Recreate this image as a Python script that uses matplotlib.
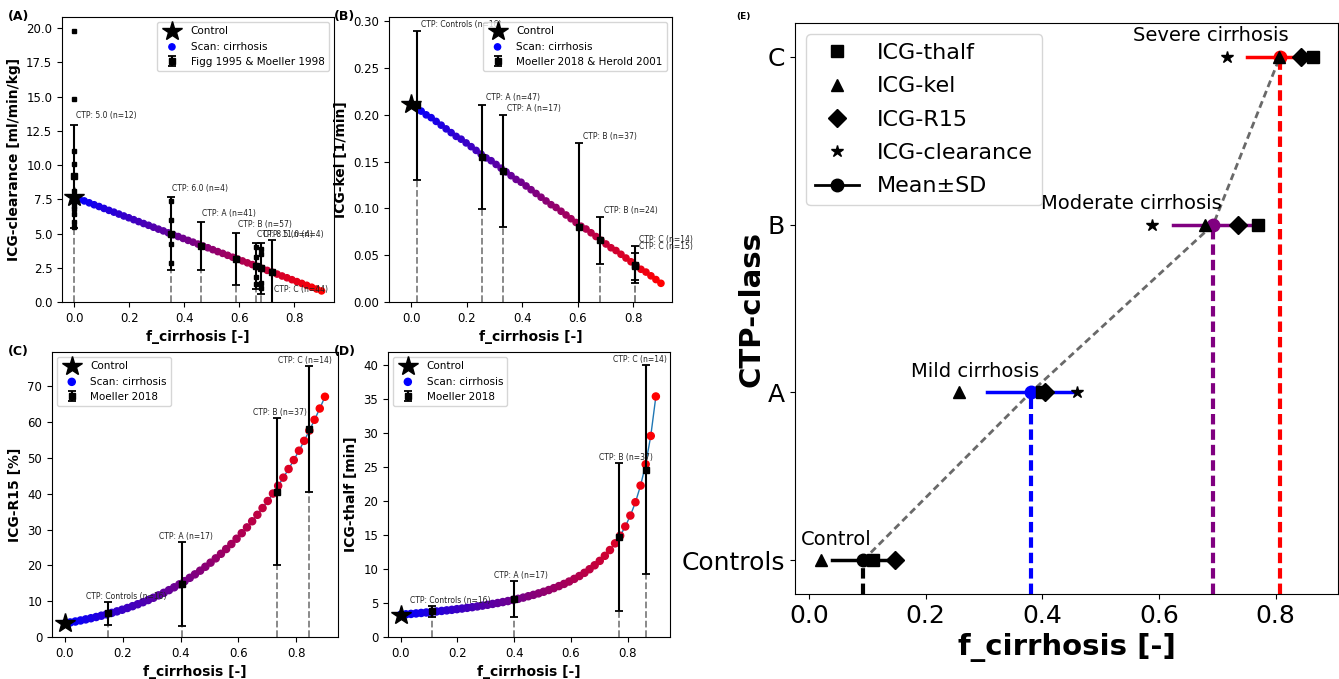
import numpy as np
import matplotlib.pyplot as plt
from matplotlib.colors import LinearSegmentedColormap
from matplotlib.lines import Line2D

# ---------------- data ----------------
# scan over fraction of cirrhosis
f_scan = np.linspace(0, 0.9, 51)

clearance_scan = [7.65, 7.51, 7.38, 7.24, 7.10, 6.97, 6.83, 6.69, 6.56, 6.42,
                  6.28, 6.15, 6.01, 5.87, 5.73, 5.60, 5.46, 5.32, 5.19, 5.05,
                  4.91, 4.78, 4.64, 4.50, 4.37, 4.23, 4.09, 3.96, 3.82, 3.68,
                  3.55, 3.41, 3.27, 3.14, 3.00, 2.86, 2.73, 2.59, 2.45, 2.31,
                  2.18, 2.04, 1.90, 1.77, 1.63, 1.49, 1.36, 1.22, 1.08, 0.95,
                  0.81]
kel_scan = [0.212, 0.208, 0.204, 0.200, 0.197, 0.193, 0.189, 0.185, 0.181, 0.177,
            0.174, 0.170, 0.166, 0.162, 0.158, 0.154, 0.151, 0.147, 0.143, 0.139,
            0.135, 0.131, 0.128, 0.124, 0.120, 0.116, 0.112, 0.108, 0.104, 0.101,
            0.097, 0.093, 0.089, 0.085, 0.081, 0.078, 0.074, 0.070, 0.066, 0.062,
            0.058, 0.055, 0.051, 0.047, 0.043, 0.039, 0.035, 0.032, 0.028, 0.024,
            0.020]
r15_scan = [3.80, 4.05, 4.32, 4.61, 4.91, 5.23, 5.57, 5.94, 6.32, 6.73,
            7.15, 7.61, 8.09, 8.60, 9.14, 9.71, 10.31, 10.95, 11.62, 12.33,
            13.08, 13.87, 14.70, 15.59, 16.52, 17.49, 18.52, 19.61, 20.76, 21.96,
            23.23, 24.56, 25.96, 27.44, 28.99, 30.61, 32.32, 34.12, 36.01, 37.98,
            40.06, 42.23, 44.51, 46.91, 49.41, 52.03, 54.78, 57.66, 60.67, 63.81,
            67.10]
thalf_scan = [3.27, 3.33, 3.39, 3.46, 3.53, 3.60, 3.67, 3.75, 3.83, 3.91,
              3.99, 4.09, 4.18, 4.28, 4.38, 4.49, 4.61, 4.73, 4.86, 4.99,
              5.13, 5.28, 5.44, 5.61, 5.79, 5.99, 6.19, 6.41, 6.65, 6.90,
              7.18, 7.48, 7.80, 8.15, 8.54, 8.96, 9.43, 9.96, 10.54, 11.19,
              11.93, 12.78, 13.76, 14.89, 16.24, 17.85, 19.81, 22.26, 25.39, 29.56,
              35.36]

# control values (f_cirrhosis = 0)
control_clearance = 7.65
control_kel = 0.212
control_r15 = 4.0
control_thalf = 3.27

# (A) ICG-clearance, Figg 1995 & Moeller 1998
clear_f = [0.0, 0.35, 0.46, 0.59, 0.66, 0.68, 0.72]
clear_mean = [9.17, 5.0, 4.1, 3.15, 2.6, 2.45, 2.2]
clear_sd = [3.78, 2.65, 1.73, 1.9, 1.68, 1.85, 2.3]
clear_labels = ['CTP: 5.0 (n=12)', 'CTP: 6.0 (n=4)', 'CTP: A (n=41)', 'CTP: B (n=57)',
                'CTP: 8.5 (n=4)', 'CTP: 11.0 (n=4)', 'CTP: C (n=44)']
# individual subjects
indiv_f = [0.0] * 12 + [0.35] * 4 + [0.66] * 4 + [0.68] * 4
indiv_clearance = [19.8, 14.8, 11.0, 10.1, 8.1, 7.7, 7.3, 7.0, 6.8, 6.4, 5.85, 5.5,
                   7.35, 6.0, 4.2, 2.85,
                   4.0, 3.3, 1.8, 1.3,
                   3.9, 3.5, 1.4, 1.0]

# (B) ICG-kel, Moeller 2018 & Herold 2001
kel_f = [0.02, 0.255, 0.33, 0.605, 0.68, 0.805, 0.805]
kel_mean = [0.21, 0.155, 0.14, 0.08, 0.066, 0.04, 0.038]
kel_sd = [0.08, 0.056, 0.06, 0.09, 0.025, 0.02, 0.014]
kel_labels = ['CTP: Controls (n=16)', 'CTP: A (n=47)', 'CTP: A (n=17)', 'CTP: B (n=37)',
              'CTP: B (n=24)', 'CTP: C (n=14)', 'CTP: C (n=15)']

# (C) ICG-R15, Moeller 2018
r15_f = [0.148, 0.405, 0.735, 0.845]
r15_mean = [6.6, 14.8, 40.6, 58.2]
r15_sd = [3.3, 11.7, 20.6, 17.6]
moeller_labels = ['CTP: Controls (n=16)', 'CTP: A (n=17)', 'CTP: B (n=37)', 'CTP: C (n=14)']

# (D) ICG-thalf, Moeller 2018
thalf_f = [0.11, 0.40, 0.77, 0.865]
thalf_mean = [3.75, 5.6, 14.7, 24.6]
thalf_sd = [0.8, 2.7, 10.9, 15.4]

# (E) f_cirrhosis per CTP class and parameter
ctp_classes = ['Controls', 'A', 'B', 'C']
class_thalf = [0.11, 0.40, 0.77, 0.865]
class_kel = [0.02, 0.257, 0.679, 0.806]
class_r15 = [0.148, 0.405, 0.736, 0.843]
class_clearance = [np.nan, 0.459, 0.588, 0.717]
class_names = ['Control', 'Mild cirrhosis', 'Moderate cirrhosis', 'Severe cirrhosis']

# ---------------- plotting ----------------
cmap = LinearSegmentedColormap.from_list('cirr', ['blue', 'purple', 'red'])

fig = plt.figure(figsize=(13.39, 6.79), dpi=100)
ax_a = fig.add_axes([0.0463, 0.5552, 0.2031, 0.4197])
ax_b = fig.add_axes([0.2905, 0.5552, 0.2114, 0.4197])
ax_c = fig.add_axes([0.0388, 0.0619, 0.2136, 0.4197])
ax_d = fig.add_axes([0.2898, 0.0619, 0.2106, 0.4197])
ax_e = fig.add_axes([0.5937, 0.1252, 0.4055, 0.8409])


def scan_panel(ax, control, scan, f, mean, sd, data_label, ylabel, dot_size):
    star, = ax.plot(0, control, '*', color='black', ms=15, zorder=6, label='Control')
    ax.plot(f_scan, scan, color='tab:blue', lw=1, zorder=1)
    sc = ax.scatter(f_scan, scan, c=f_scan, cmap=cmap, vmin=0, vmax=0.9, s=dot_size,
                    zorder=2, label='Scan: cirrhosis')
    ax.vlines(f, 0, mean, colors='gray', linestyles='--', lw=1.3, zorder=0)
    eb = ax.errorbar(f, mean, yerr=sd, fmt='s', color='black', ms=5, capsize=3,
                     elinewidth=1.5, capthick=1.3, zorder=4, label=data_label)
    ax.set_xlabel('f_cirrhosis [-]', fontsize=10, fontweight='bold')
    ax.set_ylabel(ylabel, fontsize=10, fontweight='bold')
    ax.tick_params(labelsize=8.5)
    return [star, sc, eb]


def add_labels(ax, f, mean, sd, labels, ha, dx, dy_pt):
    for i, (x, m, s, t) in enumerate(zip(f, mean, sd, labels)):
        ax.annotate(t, (x + dx[i], m + s), xytext=(0, dy_pt), textcoords='offset points',
                    ha=ha, va='bottom', fontsize=5.5, color='#222222', zorder=3)


# (A)
h = scan_panel(ax_a, control_clearance, clearance_scan, clear_f, clear_mean, clear_sd,
               'Figg 1995 & Moeller 1998', 'ICG-clearance [ml/min/kg]', 20)
ax_a.plot(indiv_f, indiv_clearance, 's', color='black', ms=2.5, zorder=3)
for i, (x, m, s, t) in enumerate(zip(clear_f, clear_mean, clear_sd, clear_labels)):
    y = m + s if i < len(clear_f) - 1 else 0.25
    ax_a.annotate(t, (x, y), xytext=(1, 3), textcoords='offset points', ha='left',
                  va='bottom', fontsize=5.5, color='#222222')
ax_a.set_xlim(-0.045, 0.945)
ax_a.set_ylim(0, 20.8)
ax_a.legend(handles=h, loc='upper right', fontsize=7.5)

# (B)
h = scan_panel(ax_b, control_kel, kel_scan, kel_f, kel_mean, kel_sd,
               'Moeller 2018 & Herold 2001', 'ICG-kel [1/min]', 20)
add_labels(ax_b, kel_f, kel_mean, kel_sd, kel_labels, 'left', [0.015] * 7, 1.5)
ax_b.set_xlim(-0.08, 0.94)
ax_b.set_ylim(0, 0.3045)
ax_b.legend(handles=h, loc='upper right', fontsize=7.5)

# (C)
h = scan_panel(ax_c, control_r15, r15_scan, r15_f, r15_mean, r15_sd,
               'Moeller 2018', 'ICG-R15 [%]', 26)
add_labels(ax_c, r15_f, r15_mean, r15_sd, moeller_labels, 'center',
           [0.065, 0.014, 0.01, -0.016], 0.5)
ax_c.set_xlim(-0.045, 0.945)
ax_c.set_ylim(0, 79.6)
ax_c.legend(handles=h, loc='upper left', fontsize=7.5)

# (D)
h = scan_panel(ax_d, control_thalf, thalf_scan, thalf_f, thalf_mean, thalf_sd,
               'Moeller 2018', 'ICG-thalf [min]', 26)
add_labels(ax_d, thalf_f, thalf_mean, thalf_sd, moeller_labels, 'center',
           [0.066, 0.023, 0.026, -0.021], 0.5)
ax_d.set_xlim(-0.045, 0.95)
ax_d.set_ylim(0, 41.9)
ax_d.legend(handles=h, loc='upper left', fontsize=7.5)

# (E)
class_vals = np.array([class_thalf, class_kel, class_r15, class_clearance])
class_mean = np.nanmean(class_vals, axis=0)
class_sd = np.nanstd(class_vals, axis=0)
ypos = np.arange(len(ctp_classes))
colors = ['black', 'blue', 'purple', 'red']
ymin = -0.2

for y, m, c in zip(ypos, class_mean, colors):
    ax_e.plot([m, m], [ymin, y], color=c, lw=3, linestyle=(0, (2.5, 1.2)), zorder=1)
ax_e.plot(class_mean, ypos, color='dimgray', lw=2, linestyle=(0, (2.5, 1.5)), zorder=2)
for y, m, s, c in zip(ypos, class_mean, class_sd, colors):
    ax_e.plot([m - s, m + s], [y, y], color=c, lw=2.5, zorder=3)
    ax_e.plot(m, y, 'o', color=c, ms=9, zorder=3)
ax_e.plot(class_thalf, ypos, 's', color='black', ms=9, zorder=4)
ax_e.plot(class_kel, ypos, '^', color='black', ms=9, zorder=4)
ax_e.plot(class_r15, ypos, 'D', color='black', ms=9, zorder=4)
ax_e.plot(class_clearance, ypos, '*', color='black', ms=9, zorder=4)
for y, m, t in zip(ypos, class_mean, class_names):
    ax_e.text(m + 0.015, y + 0.09, t, ha='right', va='baseline', fontsize=14)

ax_e.set_xlim(-0.024, 0.907)
ax_e.set_ylim(ymin, 3.2)
ax_e.set_xticks([0.0, 0.2, 0.4, 0.6, 0.8])
ax_e.set_xticklabels(['0.0', '0.2', '0.4', '0.6', '0.8'], fontsize=18)
ax_e.set_yticks(ypos)
ax_e.set_yticklabels(ctp_classes, fontsize=18)
ax_e.set_xlabel('f_cirrhosis [-]', fontsize=21, fontweight='bold')
ax_e.set_ylabel('CTP-class', fontsize=21, fontweight='bold')
ax_e.yaxis.set_label_coords(-0.055, 0.5)

leg_handles = [
    Line2D([], [], marker='s', ls='none', color='black', ms=9, label='ICG-thalf'),
    Line2D([], [], marker='^', ls='none', color='black', ms=9, label='ICG-kel'),
    Line2D([], [], marker='D', ls='none', color='black', ms=9, label='ICG-R15'),
    Line2D([], [], marker='*', ls='none', color='black', ms=9, label='ICG-clearance'),
    Line2D([], [], marker='o', color='black', lw=2, ms=9, label='Mean±SD'),
]
ax_e.legend(handles=leg_handles, loc='upper left', fontsize=16, labelspacing=0.6)

# panel letters
fig.text(0.006, 0.975, '(A)', fontsize=9, fontweight='bold', va='center')
fig.text(0.2495, 0.975, '(B)', fontsize=9, fontweight='bold', va='center')
fig.text(0.006, 0.4816, '(C)', fontsize=9, fontweight='bold', va='center')
fig.text(0.2495, 0.4816, '(D)', fontsize=9, fontweight='bold', va='center')
fig.text(0.550, 0.975, '(E)', fontsize=6.5, fontweight='bold', va='center')

fig.savefig('out.png', dpi=100)
plt.close(fig)
